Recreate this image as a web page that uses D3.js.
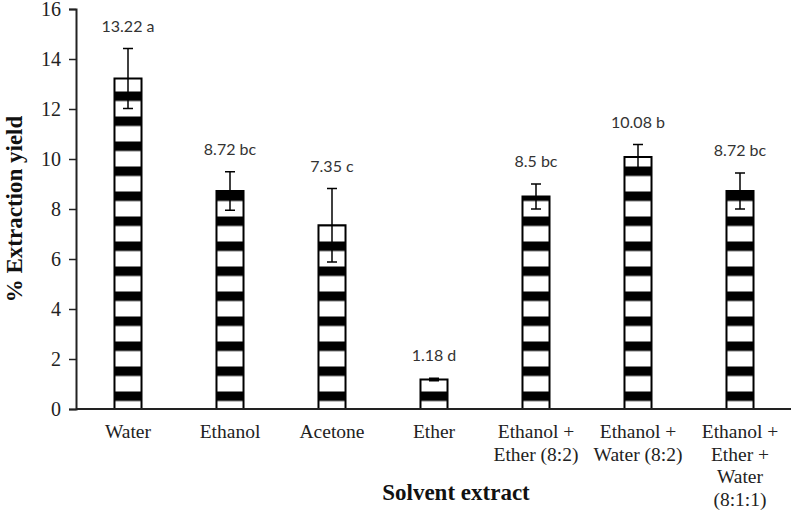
<!DOCTYPE html>
<html>
<head>
<meta charset="utf-8">
<script src="https://cdn.jsdelivr.net/npm/d3@7"></script>
<style>
  body { margin: 0; background: #fff; }
  svg { display: block; }
  .serif { font-family: "Liberation Serif", "DejaVu Serif", serif !important; }
</style>
</head>
<body>
<svg id="graf" width="792" height="515"></svg>
<script>
// data
const categories = ["Water", "Ethanol", "Acetone", "Ether", "Ethanol + Ether (8:2)", "Ethanol + Water (8:2)", "Ethanol + Ether + Water (8:1:1)"];
const catLines = [["Water"], ["Ethanol"], ["Acetone"], ["Ether"], ["Ethanol +", "Ether (8:2)"], ["Ethanol +", "Water (8:2)"], ["Ethanol +", "Ether +", "Water", "(8:1:1)"]];
const yields = [13.22, 8.72, 7.35, 1.18, 8.5, 10.08, 8.72];
const errors = [1.2, 0.77, 1.47, 0.05, 0.5, 0.5, 0.72];
const letters = ["a", "bc", "c", "d", "bc", "b", "bc"];
const yTicks = [0, 2, 4, 6, 8, 10, 12, 14, 16];

const svg = d3.select("#graf");

// stripes pattern
const defs = svg.append("defs");
const pat = defs.append("pattern")
    .attr("id", "stripes")
    .attr("patternUnits", "userSpaceOnUse")
    .attr("x", 0).attr("y", 16.5)
    .attr("width", 10).attr("height", 25);
pat.append("rect").attr("width", 10).attr("height", 25).attr("fill", "#fff");
pat.append("rect").attr("width", 10).attr("height", 9.5).attr("fill", "#000");

const xScale = d3.scaleBand()
    .domain(categories)
    .range([77, 791])
    .paddingInner(0.735)
    .paddingOuter(0.3675);

const yScale = d3.scaleLinear()
    .domain([0, 16])
    .range([409, 9]);

// bars
svg.selectAll("rect.bar")
    .data(yields)
    .enter()
    .append("rect")
    .attr("class", "bar")
    .attr("x", (d, i) => xScale(categories[i]))
    .attr("y", d => yScale(d))
    .attr("width", xScale.bandwidth())
    .attr("height", d => yScale(0) - yScale(d))
    .attr("fill", "url(#stripes)")
    .attr("stroke", "#000")
    .attr("stroke-width", 2);

// error bars
const eb = svg.selectAll("g.err")
    .data(yields)
    .enter()
    .append("g")
    .attr("class", "err")
    .attr("stroke", "#000")
    .attr("stroke-width", 1.5);

const cx = i => xScale(categories[i]) + xScale.bandwidth() / 2;
eb.append("line")
    .attr("x1", (d, i) => cx(i)).attr("x2", (d, i) => cx(i))
    .attr("y1", (d, i) => yScale(d + errors[i]))
    .attr("y2", (d, i) => yScale(d - errors[i]));
eb.append("line")
    .attr("x1", (d, i) => cx(i) - 5).attr("x2", (d, i) => cx(i) + 5)
    .attr("y1", (d, i) => yScale(d + errors[i]))
    .attr("y2", (d, i) => yScale(d + errors[i]));
eb.append("line")
    .attr("x1", (d, i) => cx(i) - 5).attr("x2", (d, i) => cx(i) + 5)
    .attr("y1", (d, i) => yScale(d - errors[i]))
    .attr("y2", (d, i) => yScale(d - errors[i]));

// value labels
svg.selectAll("text.val")
    .data(yields)
    .enter()
    .append("text")
    .attr("class", "val")
    .attr("x", (d, i) => cx(i))
    .attr("y", (d, i) => yScale(d + errors[i]) - 17)
    .attr("text-anchor", "middle")
    .attr("font-family", "Lato, 'Open Sans', sans-serif")
    .attr("font-size", 16)
    .attr("fill", "#333")
    .text((d, i) => d + " " + letters[i]);

// y axis
const yAxis = d3.axisLeft(yScale).tickValues(yTicks).tickSize(7).tickPadding(8);
const gy = svg.append("g")
    .attr("transform", "translate(76,0)")
    .call(yAxis);
gy.attr("font-family", null);
gy.select(".domain").attr("stroke", "#222").attr("stroke-width", 2);
gy.selectAll(".tick line").attr("stroke", "#222").attr("stroke-width", 1.5);
gy.selectAll(".tick text")
    .attr("class", "serif")
    .attr("font-size", 20)
    .attr("fill", "#222");

// x axis
const xAxis = d3.axisBottom(xScale).tickSize(0).tickSizeOuter(0).tickFormat("");
const gx = svg.append("g")
    .attr("transform", "translate(0,409)")
    .call(xAxis);
gx.select(".domain").attr("stroke", "#222").attr("stroke-width", 2).attr("d", "M76,0H791");

// category labels
const catText = svg.selectAll("text.cat")
    .data(catLines)
    .enter()
    .append("text")
    .attr("class", "cat serif")
    .attr("text-anchor", "middle")
    .attr("font-size", 19.5)
    .attr("fill", "#222");
catText.selectAll("tspan")
    .data((d, i) => d.map(t => ({t: t, i: i})))
    .enter()
    .append("tspan")
    .attr("x", d => cx(d.i))
    .attr("y", (d, j) => 438 + j * 22.5)
    .text(d => d.t);

// axis titles
svg.append("text")
    .attr("class", "serif")
    .attr("x", 456)
    .attr("y", 500)
    .attr("text-anchor", "middle")
    .attr("font-weight", "bold")
    .attr("font-size", 23)
    .attr("fill", "#111")
    .text("Solvent extract");

svg.append("text")
    .attr("class", "serif")
    .attr("transform", "translate(22,209) rotate(-90)")
    .attr("text-anchor", "middle")
    .attr("font-weight", "bold")
    .attr("font-size", 23)
    .attr("fill", "#111")
    .text("% Extraction yield");
</script>
</body>
</html>
